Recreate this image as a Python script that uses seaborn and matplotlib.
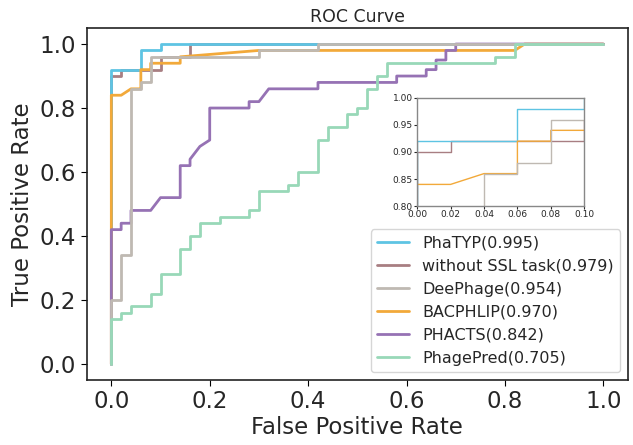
import numpy as np
import pandas as pd
import matplotlib
matplotlib.use('Agg')
import matplotlib.pyplot as plt
import seaborn as sns

# ROC curve points
names = ['PhaTYP(0.995)', 'without SSL task(0.979)', 'DeePhage(0.954)',
         'BACPHLIP(0.970)', 'PHACTS(0.842)', 'PhagePred(0.705)']
colors = ['#5ec4e3', '#a87e82', '#bfb9b2', '#f2a93a', '#9672b4', '#98d8b8']

phatyp_fpr = [0, 0, 0.06, 0.06, 0.10, 0.10, 1.0]
phatyp_tpr = [0, 0.92, 0.92, 0.98, 0.98, 1.0, 1.0]

nossl_fpr = [0, 0, 0.02, 0.02, 0.10, 0.10, 0.16, 0.16, 1.0]
nossl_tpr = [0, 0.90, 0.90, 0.92, 0.92, 0.96, 0.96, 1.0, 1.0]

deephage_fpr = [0, 0, 0.02, 0.02, 0.04, 0.04, 0.06, 0.06, 0.08, 0.08, 0.30, 0.30, 0.42, 0.42, 1.0]
deephage_tpr = [0, 0.20, 0.20, 0.34, 0.34, 0.86, 0.86, 0.88, 0.88, 0.96, 0.96, 0.98, 0.98, 1.0, 1.0]

bacphlip_fpr = [0, 0, 0.02, 0.04, 0.06, 0.06, 0.08, 0.08, 0.14, 0.14, 0.30, 0.82, 0.84, 1.0]
bacphlip_tpr = [0, 0.84, 0.84, 0.86, 0.86, 0.92, 0.92, 0.94, 0.94, 0.96, 0.98, 0.98, 1.0, 1.0]

phacts_fpr = [0, 0, 0.02, 0.02, 0.04, 0.04, 0.08, 0.10, 0.14, 0.14, 0.16, 0.16, 0.18, 0.20, 0.20,
              0.28, 0.28, 0.30, 0.32, 0.42, 0.42, 0.58, 0.58, 0.64, 0.64, 0.66, 0.66, 0.68, 0.68,
              0.70, 0.70, 1.0]
phacts_tpr = [0, 0.42, 0.42, 0.44, 0.44, 0.48, 0.48, 0.52, 0.52, 0.62, 0.62, 0.64, 0.68, 0.70, 0.80,
              0.80, 0.82, 0.82, 0.86, 0.86, 0.88, 0.88, 0.90, 0.90, 0.92, 0.92, 0.95, 0.95, 0.98,
              0.98, 1.0, 1.0]

phagepred_fpr = [0, 0, 0.02, 0.02, 0.04, 0.04, 0.08, 0.08, 0.10, 0.10, 0.14, 0.14, 0.16, 0.16,
                 0.18, 0.18, 0.22, 0.22, 0.28, 0.28, 0.30, 0.30, 0.36, 0.36, 0.38, 0.38, 0.42, 0.42,
                 0.44, 0.44, 0.48, 0.48, 0.50, 0.50, 0.52, 0.52, 0.54, 0.54, 0.56, 0.56, 0.78, 0.78,
                 0.82, 0.82, 1.0]
phagepred_tpr = [0, 0.14, 0.14, 0.16, 0.16, 0.18, 0.18, 0.22, 0.22, 0.28, 0.28, 0.36, 0.36, 0.40,
                 0.40, 0.44, 0.44, 0.46, 0.46, 0.48, 0.48, 0.54, 0.54, 0.56, 0.56, 0.60, 0.60, 0.70,
                 0.70, 0.74, 0.74, 0.78, 0.78, 0.80, 0.80, 0.86, 0.86, 0.90, 0.90, 0.94, 0.94, 0.96,
                 0.96, 1.0, 1.0]

curves = [(phatyp_fpr, phatyp_tpr), (nossl_fpr, nossl_tpr), (deephage_fpr, deephage_tpr),
          (bacphlip_fpr, bacphlip_tpr), (phacts_fpr, phacts_tpr), (phagepred_fpr, phagepred_tpr)]

frames = []
for name, (fx, ty) in zip(names, curves):
    frames.append(pd.DataFrame({'fpr': fx, 'tpr': ty, 'model': name}))
df = pd.concat(frames, ignore_index=True)
palette = dict(zip(names, colors))

# stacking order seen in the reference (first = bottom)
draw_order = [names[1], names[0], names[3], names[4], names[2], names[5]]

sns.set_style('ticks')
plt.rcParams['font.family'] = ['DejaVu Sans']

fig = plt.figure(figsize=(6.33, 4.45), dpi=100)
ax = fig.add_axes([0.137, 0.146, 0.855, 0.791])

sns.lineplot(data=df, x='fpr', y='tpr', hue='model', palette=palette, hue_order=draw_order,
             estimator=None, sort=False, linewidth=2, ax=ax)
ax.set_xticks([0, 0.2, 0.4, 0.6, 0.8, 1.0])
ax.set_yticks([0, 0.2, 0.4, 0.6, 0.8, 1.0])
ax.tick_params(labelsize=16.5, length=4, color='black')
ax.set_xlabel('False Positive Rate', fontsize=16.5, labelpad=2)
ax.set_ylabel('True Positive Rate', fontsize=16.5, labelpad=4)
ax.set_title('ROC Curve', fontsize=12.5, pad=4)
for sp in ax.spines.values():
    sp.set_color('#222222')
    sp.set_linewidth(1.2)

handles, labels = ax.get_legend_handles_labels()
lookup = dict(zip(labels, handles))
ax.legend([lookup[n] for n in names], names, loc='lower right', fontsize=11.5,
          handlelength=2.0)

# zoomed inset
axin = fig.add_axes([0.659, 0.537, 0.264, 0.243])
sns.lineplot(data=df, x='fpr', y='tpr', hue='model', palette=palette, hue_order=draw_order,
             estimator=None, sort=False, linewidth=1, ax=axin, legend=False)
axin.set_xlim(0, 0.1)
axin.set_ylim(0.8, 1.0)
axin.set_xticks([0, 0.02, 0.04, 0.06, 0.08, 0.10])
axin.set_yticks([0.80, 0.85, 0.90, 0.95, 1.00])
axin.set_xticklabels(['0.00', '0.02', '0.04', '0.06', '0.08', '0.10'])
axin.set_yticklabels(['0.80', '0.85', '0.90', '0.95', '1.00'])
axin.tick_params(labelsize=6.5, length=2, pad=1)
axin.set_xlabel('')
axin.set_ylabel('')
for sp in axin.spines.values():
    sp.set_color('#888888')
    sp.set_linewidth(1)

fig.savefig('out.png', dpi=100)
